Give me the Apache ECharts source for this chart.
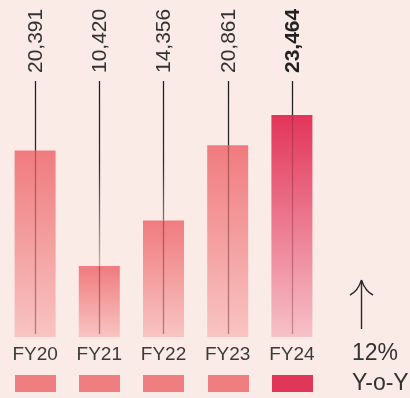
<!DOCTYPE html>
<html>
<head>
<meta charset="utf-8">
<script src="https://cdn.jsdelivr.net/npm/echarts@6/dist/echarts.min.js"></script>
<style>
  html, body { margin: 0; padding: 0; background: #fbebe7; }
  #chart { width: 410px; height: 398px; }
</style>
</head>
<body>
<div id="chart"></div>
<script>
// Fiscal-year revenue with leader lines and a year-over-year callout
const categories = ['FY20', 'FY21', 'FY22', 'FY23', 'FY24'];
const revenue = [20391, 10420, 14356, 20861, 23464];
const highlightIndex = 4;
const growthLabel = '12%';
const growthCaption = 'Y-o-Y';

const FONT = '"Liberation Sans", Arial, sans-serif';
const AXIS_MIN = 4300;
const AXIS_MAX = 26400;

const fmt = v => v.toLocaleString('en-US');

const barGrad = (top, bottom) => ({
  type: 'linear', x: 0, y: 0, x2: 0, y2: 1,
  colorStops: [{ offset: 0, color: top }, { offset: 1, color: bottom }]
});
const normalFill = barGrad('#f07b7f', '#f8c4c2');
const highlightFill = barGrad('#e2355a', '#f6c1c8');

const chart = echarts.init(document.getElementById('chart'), null, { renderer: 'canvas' });

chart.setOption({
  backgroundColor: '#fbebe7',
  animation: false,
  grid: { left: 3, width: 321, top: 81, bottom: 61 },
  xAxis: {
    type: 'category',
    data: categories,
    axisLine: { show: false },
    axisTick: { show: false },
    axisLabel: { color: '#3a3a3a', fontSize: 19, fontFamily: FONT, margin: 8 }
  },
  yAxis: {
    type: 'value', min: AXIS_MIN, max: AXIS_MAX,
    show: false, splitLine: { show: false }
  },
  series: [
    {
      type: 'bar',
      barWidth: 41,
      data: revenue.map((v, i) => ({
        value: v,
        itemStyle: { color: i === highlightIndex ? highlightFill : normalFill }
      })),
      z: 2
    },
    {
      // leader lines, rotated value labels and colour swatches
      type: 'custom',
      data: revenue.map((v, i) => [i, v]),
      encode: { x: 0, y: 1 },
      z: 3,
      renderItem: (params, api) => {
        const idx = api.value(0);
        const val = api.value(1);
        const top = api.coord([idx, AXIS_MAX]);
        const barTop = api.coord([idx, val]);
        const base = api.coord([idx, AXIS_MIN]);
        const x = Math.round(top[0]) + 0.5;
        const hl = idx === highlightIndex;
        return {
          type: 'group',
          children: [
            {
              type: 'line',
              shape: { x1: x, y1: top[1], x2: x, y2: barTop[1] },
              style: {
                lineWidth: 1.3,
                stroke: {
                  type: 'linear', global: true,
                  x: 0, y: top[1], x2: 0, y2: base[1],
                  colorStops: [
                    { offset: 0, color: '#1e1e1e' },
                    { offset: 0.32, color: '#2e2e2e' },
                    { offset: 0.75, color: '#c2b8b6' },
                    { offset: 1, color: '#d0c6c4' }
                  ]
                }
              }
            },
            {
              type: 'line',
              shape: { x1: x, y1: barTop[1], x2: x, y2: base[1] - 3 },
              style: { lineWidth: 1.3, stroke: hl ? 'rgba(120,30,55,0.35)' : 'rgba(100,35,40,0.45)' }
            },
            {
              type: 'text',
              x: x + 1,
              y: top[1] - 8,
              rotation: Math.PI / 2,
              style: {
                text: fmt(val),
                align: 'left',
                verticalAlign: 'middle',
                fill: hl ? '#222' : '#333',
                fontSize: 21,
                fontWeight: hl ? 'bold' : 'normal',
                fontFamily: FONT
              }
            },
            {
              type: 'rect',
              shape: { x: x - 20.5, y: base[1] + 38, width: 41, height: 17 },
              style: { fill: hl ? '#e0365a' : '#f07d80' }
            }
          ]
        };
      }
    }
  ],
  graphic: [
    {
      type: 'line',
      shape: { x1: 361.5, y1: 281, x2: 361.5, y2: 329 },
      style: { stroke: '#2a2a2a', lineWidth: 1.4 }
    },
    {
      type: 'bezierCurve',
      shape: { x1: 350, y1: 295, cpx1: 358, cpy1: 291, x2: 361.5, y2: 280 },
      style: { stroke: '#2a2a2a', lineWidth: 1.4, fill: null }
    },
    {
      type: 'bezierCurve',
      shape: { x1: 373, y1: 295, cpx1: 365, cpy1: 291, x2: 361.5, y2: 280 },
      style: { stroke: '#2a2a2a', lineWidth: 1.4, fill: null }
    },
    {
      type: 'text', x: 352, y: 354,
      style: { text: growthLabel, fontSize: 23, fontFamily: FONT, fill: '#333', verticalAlign: 'middle' }
    },
    {
      type: 'text', x: 352, y: 384,
      style: { text: growthCaption, fontSize: 23, fontFamily: FONT, fill: '#333', verticalAlign: 'middle' }
    }
  ]
});
</script>
</body>
</html>
